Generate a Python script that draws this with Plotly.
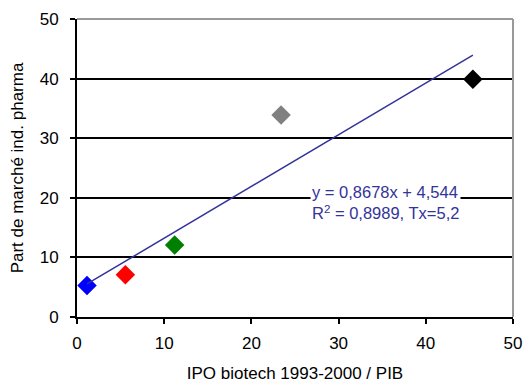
import plotly.graph_objects as go

x_vals = [1.15, 5.55, 11.2, 23.4, 45.4]
y_vals = [5.3, 7.1, 12.1, 33.9, 39.9]
colors = ["#0000FF", "#FF0000", "#008000", "#808080", "#000000"]
slope = 0.8678
intercept = 4.544
eq_lines = ["y = 0,8678x + 4,544", "R<sup>2</sup> = 0,8989, Tx=5,2"]
tick_vals = [0, 10, 20, 30, 40, 50]

FONT = "Liberation Sans, Arial"

fig = go.Figure()
fig.add_trace(go.Scatter(
    x=x_vals, y=y_vals, mode="markers",
    marker=dict(symbol="diamond", size=15, color=colors, line=dict(width=0)),
    showlegend=False, hoverinfo="skip"))
tx = [min(x_vals), max(x_vals)]
fig.add_trace(go.Scatter(
    x=tx, y=[slope * v + intercept for v in tx], mode="lines",
    line=dict(color="#333399", width=1.5), showlegend=False, hoverinfo="skip"))

fig.add_annotation(x=35.4, y=20.0, xref="x", yref="y", text="<br>".join(eq_lines),
                   showarrow=False, bgcolor="white", align="left",
                   font=dict(family=FONT, size=16.5, color="#333399"),
                   yshift=-5)

fig.update_layout(
    width=526, height=383,
    margin=dict(l=77, r=13, t=19, b=66, autoexpand=False),
    paper_bgcolor="white", plot_bgcolor="white",
    font=dict(family=FONT, size=17, color="black"),
    shapes=[
        dict(type="line", xref="paper", yref="paper", x0=0, x1=1, y0=1, y1=1,
             line=dict(color="#999999", width=2)),
        dict(type="line", xref="paper", yref="paper", x0=1, x1=1, y0=0, y1=1,
             line=dict(color="#999999", width=2)),
    ],
)
fig.update_xaxes(range=[0, 50], tickvals=tick_vals, showgrid=False, automargin=False,
                 zeroline=False, showline=True, linecolor="black", linewidth=2,
                 ticks="outside", ticklen=5, tickcolor="black", tickwidth=1.5,
                 ticklabelstandoff=5,
                 title=dict(text="IPO biotech 1993-2000 / PIB", font=dict(size=17), standoff=15),
                 tickfont=dict(size=17))
fig.update_yaxes(range=[0, 50], tickvals=tick_vals, showgrid=True, automargin=False,
                 gridcolor="black", gridwidth=1.5, zeroline=False, showline=True,
                 linecolor="black", linewidth=2, ticks="outside", ticklen=5,
                 tickcolor="black", tickwidth=1.5, ticklabelstandoff=8,
                 title=dict(text="Part de marché ind. pharma", font=dict(size=17), standoff=12),
                 tickfont=dict(size=17))

fig.write_html("out.html")
